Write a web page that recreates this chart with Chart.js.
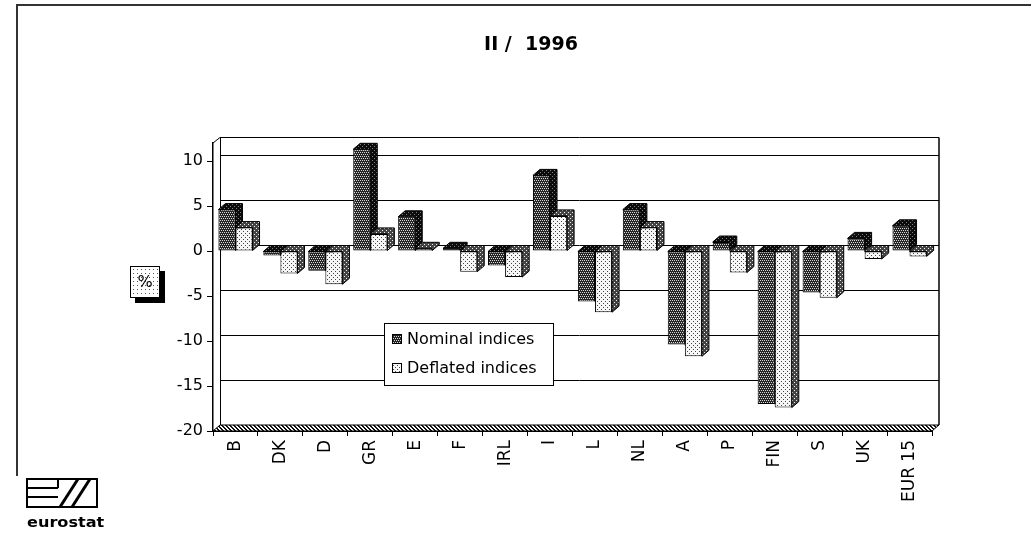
<!DOCTYPE html>
<html>
<head>
<meta charset="utf-8">
<script src="https://cdn.jsdelivr.net/npm/chart.js@4/dist/chart.umd.min.js"></script>
<style>
  html, body { margin: 0; padding: 0; background: #fff; }
  #wrap { position: relative; width: 1031px; height: 533px; }
</style>
</head>
<body>
<div id="wrap"><canvas id="chart"></canvas></div>
<script>
// Data (percent change)
const categories = ['B', 'DK', 'D', 'GR', 'E', 'F', 'IRL', 'I', 'L', 'NL', 'A', 'P', 'FIN', 'S', 'UK', 'EUR 15'];
const nominalIndices  = [4.6, -0.5, -2.2, 11.3, 3.8, 0.3, -1.6, 8.4, -5.6, 4.6, -10.4, 1.0, -17.0, -4.6, 1.4, 2.8];
const deflatedIndices = [2.6, -2.5, -3.7, 1.9, 0.3, -2.3, -2.9, 3.9, -6.8, 2.6, -11.7, -2.4, -17.4, -5.2, -0.9, -0.6];
const seriesNames = ['Nominal indices', 'Deflated indices'];
const yMin = -20, yMax = 12, yStep = 5;
const titleText = 'II /  1996';
const unitText = '%';

const FONT = '"DejaVu Sans", sans-serif';
const DX = 7, DY = 6;   // depth of the 3D look

const canvas = document.getElementById('chart');
const baseCtx = canvas.getContext('2d');

// small dotted / hatched fills, like the print screens
function dotPattern(bg, dot, pts) {
  const c = document.createElement('canvas');
  c.width = 4; c.height = 4;
  const x = c.getContext('2d');
  x.fillStyle = bg; x.fillRect(0, 0, 4, 4);
  x.fillStyle = dot;
  pts.forEach(p => x.fillRect(p[0], p[1], 1, 1));
  return baseCtx.createPattern(c, 'repeat');
}
function hatchPattern() {
  const c = document.createElement('canvas');
  c.width = 4; c.height = 4;
  const x = c.getContext('2d');
  x.fillStyle = '#fff'; x.fillRect(0, 0, 4, 4);
  x.fillStyle = '#111';
  [[0, 0], [1, 0], [1, 1], [2, 1], [2, 2], [3, 2], [3, 3], [0, 3]].forEach(p => x.fillRect(p[0], p[1], 1, 1));
  return baseCtx.createPattern(c, 'repeat');
}

const fills = {
  nominal:      dotPattern('#262626', '#d8d8d8', [[0, 0], [2, 0], [1, 2], [3, 2]]),
  nominalSide:  dotPattern('#0c0c0c', '#808080', [[0, 0], [2, 2]]),
  deflated:     dotPattern('#f6f6f6', '#444', [[1, 1], [3, 3]]),
  deflatedSide: dotPattern('#444', '#eee', [[0, 0], [2, 2]]),
  floor:        hatchPattern(),
  unitBox:      dotPattern('#fff', '#555', [[1, 1]])
};
const sideFills = [fills.nominalSide, fills.deflatedSide];

function seg(ctx, x1, y1, x2, y2) {
  ctx.beginPath(); ctx.moveTo(x1, y1); ctx.lineTo(x2, y2); ctx.stroke();
}

const box3d = {
  id: 'box3d',
  beforeDatasetsDraw(chart) {
    const { ctx, chartArea: a, scales: { y } } = chart;
    ctx.save();
    ctx.strokeStyle = '#000';
    ctx.lineWidth = 1;
    // back wall grid lines
    y.ticks.forEach(t => {
      const py = Math.round(y.getPixelForValue(t.value)) + 0.5 - DY;
      seg(ctx, a.left + DX, py, a.right + DX, py);
    });
    const top = a.top - DY + 0.5;
    seg(ctx, a.left + DX, top, a.right + DX, top);
    seg(ctx, a.left, a.top, a.left + DX, top);
    seg(ctx, a.left + DX + 0.5, top, a.left + DX + 0.5, a.bottom - DY);
    ctx.lineWidth = 1.5;
    seg(ctx, a.right + DX, top, a.right + DX, a.bottom - DY);
    // floor strip
    ctx.fillStyle = fills.floor;
    ctx.beginPath();
    ctx.moveTo(a.left, a.bottom);
    ctx.lineTo(a.left + DX, a.bottom - DY);
    ctx.lineTo(a.right + DX, a.bottom - DY);
    ctx.lineTo(a.right, a.bottom);
    ctx.closePath();
    ctx.fill();
    ctx.lineWidth = 1;
    ctx.stroke();

    // depth faces (top + side) of every bar, nominal first so the
    // deflated bar of the same country sits in front of it
    ctx.lineWidth = 1;
    [0, 1].forEach(di => {
      const meta = chart.getDatasetMeta(di);
      ctx.fillStyle = sideFills[di];
      meta.data.forEach(el => {
        const { x, y: vy, base, width } = el.getProps(['x', 'y', 'base', 'width'], true);
        const l = x - width / 2, r = x + width / 2;
        const t = Math.min(vy, base), b = Math.max(vy, base);
        ctx.beginPath();
        ctx.moveTo(l, t);
        ctx.lineTo(l + DX, t - DY);
        ctx.lineTo(r + DX, t - DY);
        ctx.lineTo(r + DX, b - DY);
        ctx.lineTo(r, b);
        ctx.lineTo(r, t);
        ctx.closePath();
        ctx.fill();
        ctx.stroke();
      });
    });
    ctx.restore();
  },
  afterDraw(chart) {
    const { ctx } = chart;
    ctx.save();

    // page frame (top and left rule of the scan)
    ctx.strokeStyle = '#333';
    ctx.lineWidth = 2;
    seg(ctx, 17, 5, 1031, 5);
    seg(ctx, 17, 4, 17, 476);

    // title
    ctx.fillStyle = '#000';
    ctx.font = 'bold 19px ' + FONT;
    ctx.textAlign = 'center';
    ctx.textBaseline = 'middle';
    ctx.fillText(titleText, 531, 45);

    // "%" box with shadow
    ctx.fillStyle = '#000';
    ctx.fillRect(135, 271, 30, 32);
    ctx.fillStyle = fills.unitBox;
    ctx.fillRect(130, 266, 30, 32);
    ctx.strokeStyle = '#000';
    ctx.lineWidth = 1;
    ctx.strokeRect(130.5, 266.5, 29, 31);
    ctx.fillStyle = '#000';
    ctx.font = '16px ' + FONT;
    ctx.fillText(unitText, 145, 283);

    // legend
    const lx = 384, ly = 323, lw = 169, lh = 62;
    ctx.fillStyle = '#fff';
    ctx.fillRect(lx, ly, lw, lh);
    ctx.strokeRect(lx + 0.5, ly + 0.5, lw, lh);
    ctx.font = '16px ' + FONT;
    ctx.textAlign = 'left';
    [fills.nominal, fills.deflated].forEach((f, i) => {
      const cy = ly + 16 + i * 29;
      ctx.fillStyle = f;
      ctx.fillRect(392, cy - 5, 10, 10);
      ctx.strokeRect(392.5, cy - 4.5, 9, 9);
      ctx.fillStyle = '#000';
      ctx.fillText(seriesNames[i], 407, cy + 1);
    });

    // eurostat logo
    ctx.lineWidth = 2;
    ctx.strokeStyle = '#000';
    ctx.strokeRect(27, 479, 70, 28);
    seg(ctx, 27, 488, 58, 488);
    seg(ctx, 27, 497, 58, 497);
    seg(ctx, 58, 479, 58, 488);
    ctx.lineWidth = 3;
    seg(ctx, 60, 507, 78, 479);
    seg(ctx, 72, 507, 90, 479);
    ctx.font = 'bold 14px ' + FONT;
    ctx.textBaseline = 'alphabetic';
    ctx.fillStyle = '#000';
    ctx.save();
    ctx.translate(27, 527);
    ctx.scale(1.15, 1);
    ctx.fillText('eurostat', 0, 0);
    ctx.restore();

    ctx.restore();
  }
};

new Chart(canvas, {
  type: 'bar',
  data: {
    labels: categories,
    datasets: [
      {
        label: seriesNames[0],
        data: nominalIndices,
        backgroundColor: fills.nominal,
        borderColor: '#000',
        borderWidth: 1,
        borderSkipped: false
      },
      {
        label: seriesNames[1],
        data: deflatedIndices,
        backgroundColor: fills.deflated,
        borderColor: '#000',
        borderWidth: 1,
        borderSkipped: false
      }
    ]
  },
  options: {
    responsive: true,
    maintainAspectRatio: false,
    animation: false,
    categoryPercentage: 0.76,
    barPercentage: 1.0,
    layout: { padding: { left: 0, top: 143, right: 99, bottom: 0 } },
    plugins: {
      legend: { display: false },
      tooltip: { enabled: false }
    },
    scales: {
      x: {
        grid: { drawOnChartArea: false, drawTicks: true, tickLength: 5, color: '#000' },
        border: { display: true, color: '#000', width: 1 },
        ticks: {
          color: '#000',
          autoSkip: false,
          maxRotation: 90,
          minRotation: 90,
          padding: 4,
          font: { family: FONT, size: 17 }
        },
        afterFit(scale) { scale.height = 102; }
      },
      y: {
        min: yMin,
        max: yMax,
        grid: { drawOnChartArea: false, drawTicks: true, tickLength: 6, color: '#000' },
        border: { display: true, color: '#000', width: 1.5 },
        ticks: {
          stepSize: yStep,
          includeBounds: false,
          color: '#000',
          padding: 4,
          font: { family: FONT, size: 16 }
        },
        afterFit(scale) { scale.width = 213; }
      }
    }
  },
  plugins: [box3d]
});
</script>
</body>
</html>
